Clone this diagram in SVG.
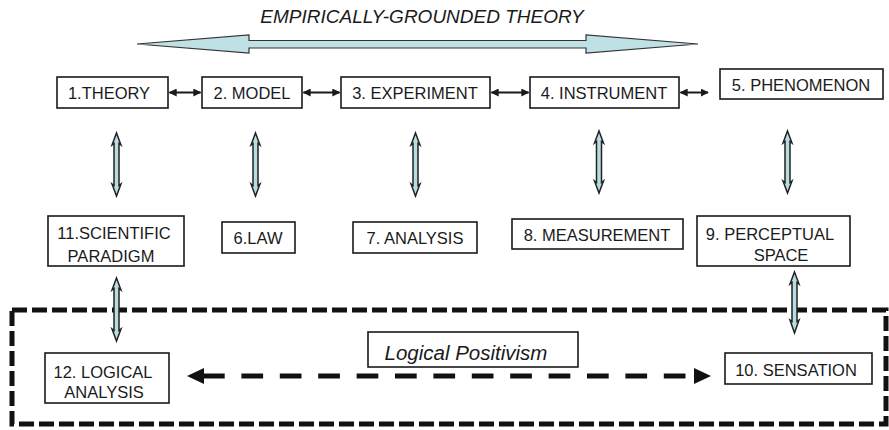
<svg xmlns="http://www.w3.org/2000/svg" width="889" height="430" viewBox="0 0 889 430">
<style>
  .box { fill: #ffffff; stroke: #1a1a1a; stroke-width: 1.6; }
  .t { font-family: "Liberation Sans", Arial, sans-serif; font-size: 16.5px; fill: #1a1a1a; text-anchor: middle; }
  .title { font-family: "Liberation Sans", Arial, sans-serif; font-size: 19px; font-style: italic; fill: #1a1a1a; text-anchor: middle; }
  .lp { font-family: "Liberation Sans", Arial, sans-serif; font-size: 20.5px; font-style: italic; fill: #1a1a1a; text-anchor: middle; }
  .harrow { stroke: #1a1a1a; stroke-width: 2; fill: none; marker-start: url(#sm); marker-end: url(#sm); }
  .varrow { fill: #b7dde2; stroke: #222222; stroke-width: 1.5; stroke-linejoin: miter; }
  .big { fill: #bfe1e5; stroke: #333333; stroke-width: 1.2; }
  .dashbox { fill: none; stroke: #111111; stroke-width: 5; stroke-dasharray: 15 5; }
  .dashline { stroke: #111111; stroke-width: 5; stroke-dasharray: 21.7 16.7; fill: none; }
</style>
<defs>
  <marker id="sm" viewBox="0 0 10 10" refX="9" refY="5" markerWidth="4" markerHeight="4" orient="auto-start-reverse">
    <path d="M0,0 L10,5 L0,10 z" fill="#1a1a1a"/>
  </marker>
</defs>

<g id="title">
  <text class="title" x="422" y="23">EMPIRICALLY-GROUNDED THEORY</text>
  <polygon class="big" points="137,44 249,35 249,40.5 586,40.5 586,35 698,44 586,53 586,48 249,48 249,53"/>
</g>

<g id="logical-positivism-region">
  <rect class="dashbox" x="12" y="310" width="874" height="114"/>
</g>

<g id="n1"><rect class="box" x="57" y="77" width="111" height="31"/><text class="t" x="109" y="99">1.THEORY</text></g>
<g id="n2"><rect class="box" x="202" y="77" width="100" height="31"/><text class="t" x="252" y="99">2. MODEL</text></g>
<g id="n3"><rect class="box" x="341" y="77" width="149" height="31"/><text class="t" x="415" y="99">3. EXPERIMENT</text></g>
<g id="n4"><rect class="box" x="530" y="77" width="149" height="31"/><text class="t" x="604" y="99">4. INSTRUMENT</text></g>
<g id="n5"><rect class="box" x="720" y="69" width="163" height="30"/><text class="t" x="801" y="91">5. PHENOMENON</text></g>

<g id="n11"><rect class="box" x="48" y="216" width="136" height="50"/><text class="t" x="114" y="238.5">11.SCIENTIFIC</text><text class="t" x="111" y="261.5">PARADIGM</text></g>
<g id="n6"><rect class="box" x="222" y="222" width="73" height="31"/><text class="t" x="258" y="244">6.LAW</text></g>
<g id="n7"><rect class="box" x="353" y="222" width="124" height="31"/><text class="t" x="415" y="244">7. ANALYSIS</text></g>
<g id="n8"><rect class="box" x="512" y="219" width="171" height="30"/><text class="t" x="597" y="241">8. MEASUREMENT</text></g>
<g id="n9"><rect class="box" x="697" y="216" width="153" height="50"/><text class="t" x="770" y="240">9. PERCEPTUAL</text><text class="t" x="781" y="260.5">SPACE</text></g>

<g id="n12"><rect class="box" x="45" y="353" width="124" height="50"/><text class="t" x="103" y="377.5">12. LOGICAL</text><text class="t" x="104" y="397.5">ANALYSIS</text></g>
<g id="n10"><rect class="box" x="725" y="353" width="147" height="31"/><text class="t" x="796" y="376">10. SENSATION</text></g>

<g id="lp-label"><rect class="box" x="368" y="332" width="210" height="35"/><text class="lp" x="466" y="359.5">Logical Positivism</text></g>

<g id="connectors">
  <line class="harrow" x1="169.5" y1="92.5" x2="200.5" y2="92.5"/>
  <line class="harrow" x1="303.5" y1="92.5" x2="339.5" y2="92.5"/>
  <line class="harrow" x1="491.5" y1="92.5" x2="528.5" y2="92.5"/>
  <line class="harrow" x1="680.5" y1="92.5" x2="708" y2="92.5"/>

  <polygon class="varrow" points="116.5,133 121,145 119,143.5 119,185.5 121,184 116.5,196 112,184 114,185.5 114,143.5 112,145"/>
  <polygon class="varrow" points="255.5,133 260,145 258,143.5 258,185.5 260,184 255.5,196 251,184 253,185.5 253,143.5 251,145"/>
  <polygon class="varrow" points="415.5,133 420,145 418,143.5 418,185.5 420,184 415.5,196 411,184 413,185.5 413,143.5 411,145"/>
  <polygon class="varrow" points="599,131 603.5,143 601.5,141.5 601.5,182.5 603.5,181 599,193 594.5,181 596.5,182.5 596.5,141.5 594.5,143"/>
  <polygon class="varrow" points="787.5,131 792,143 790,141.5 790,182.5 792,181 787.5,193 783,181 785,182.5 785,141.5 783,143"/>
  <polygon class="varrow" points="116.5,278 121,290 119,288.5 119,330.5 121,329 116.5,341 112,329 114,330.5 114,288.5 112,290"/>
  <polygon class="varrow" points="794.5,272 799,284 797,282.5 797,321.5 799,320 794.5,333 790,320 792,321.5 792,282.5 790,284"/>

  <line class="dashline" x1="203" y1="376" x2="694" y2="376"/>
  <polygon points="187,376 204,368 204,384" fill="#111111"/>
  <polygon points="711,376 694,368 694,384" fill="#111111"/>
</g>
</svg>
